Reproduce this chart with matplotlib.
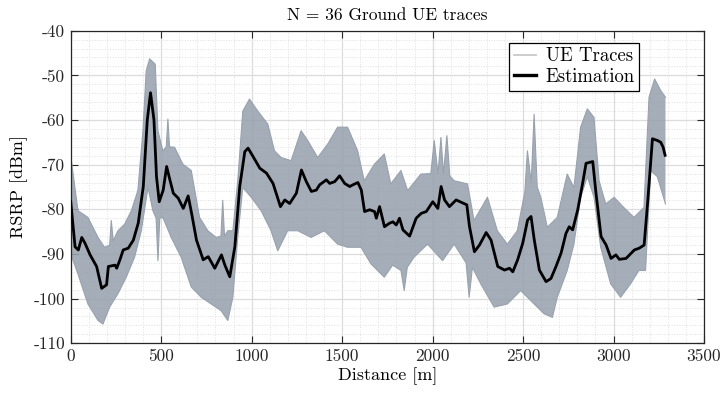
import matplotlib
matplotlib.use('Agg')
import matplotlib.pyplot as plt
from matplotlib.ticker import MultipleLocator
import numpy as np

plt.rcParams['font.family'] = ['cmr10', 'DejaVu Serif']
plt.rcParams['mathtext.fontset'] = 'cm'
plt.rcParams['axes.unicode_minus'] = False
plt.rcParams['axes.formatter.use_mathtext'] = False

# Mean RSRP estimate along the drive route
est_dist = [0, 24, 42, 61, 79, 107, 143, 171, 198, 208, 245, 254, 272, 290, 318, 346,
            373, 401, 423, 441, 460, 474, 489, 511, 530, 548, 567, 594, 622, 649, 668,
            695, 732, 760, 796, 833, 852, 879, 907, 934, 962, 980, 1008, 1045, 1082,
            1118, 1159, 1183, 1210, 1247, 1275, 1302, 1330, 1357, 1376, 1413, 1431,
            1459, 1486, 1514, 1542, 1560, 1587, 1606, 1624, 1652, 1679, 1689, 1707,
            1734, 1762, 1781, 1799, 1817, 1836, 1873, 1909, 1937, 1965, 2001, 2029,
            2047, 2066, 2093, 2130, 2189, 2204, 2231, 2259, 2296, 2323, 2360, 2397,
            2425, 2443, 2470, 2498, 2525, 2544, 2562, 2590, 2627, 2654, 2682, 2710,
            2737, 2755, 2774, 2802, 2829, 2848, 2885, 2903, 2931, 2959, 2986, 3013,
            3032, 3069, 3115, 3142, 3169, 3188, 3215, 3243, 3261, 3274, 3285]
est_rsrp = [-78.3, -88.4, -89.1, -86.3, -87.6, -90.2, -92.8, -97.7, -96.9, -92.8, -92.5,
            -93.2, -91.3, -89.1, -88.7, -86.9, -83.1, -74.9, -60.0, -53.9, -60.0, -72.7,
            -78.3, -75.7, -70.4, -73.4, -76.4, -77.5, -79.8, -77.0, -80.9, -86.9, -91.3,
            -90.6, -93.2, -90.2, -92.5, -95.1, -88.4, -74.9, -67.1, -66.3, -68.2, -70.8,
            -71.9, -74.2, -79.4, -77.9, -78.7, -76.4, -71.2, -73.8, -76.0, -75.7, -74.5,
            -73.4, -74.2, -73.8, -72.5, -74.2, -74.9, -74.5, -74.0, -75.7, -80.5, -80.1,
            -80.5, -82.0, -79.4, -83.9, -83.1, -82.8, -83.5, -82.0, -84.6, -86.0, -82.0,
            -80.9, -80.5, -78.3, -79.8, -74.9, -77.9, -79.4, -77.9, -79.0, -83.9, -89.5,
            -88.0, -85.2, -86.9, -92.8, -93.6, -93.2, -94.0, -91.3, -87.6, -82.4, -81.6,
            -86.9, -93.6, -96.2, -95.5, -92.8, -89.8, -85.4, -83.9, -84.6, -80.1, -74.2,
            -69.7, -69.3, -76.4, -86.1, -88.0, -91.0, -90.2, -91.2, -91.0, -89.1, -88.7,
            -88.0, -78.7, -64.2, -64.6, -65.0, -66.1, -67.9]

# Upper and lower edges of the 36 measured UE traces
up_dist = [0, 40, 95, 151, 187, 215, 224, 235, 261, 298, 335, 371, 399, 417, 436, 467,
           482, 509, 528, 537, 546, 574, 620, 666, 712, 758, 804, 830, 840, 850, 868,
           896, 923, 951, 988, 1034, 1089, 1126, 1163, 1218, 1273, 1310, 1365, 1420,
           1475, 1530, 1586, 1622, 1678, 1733, 1769, 1825, 1862, 1935, 1990, 2009,
           2030, 2046, 2060, 2079, 2095, 2119, 2193, 2229, 2303, 2358, 2413, 2468,
           2510, 2524, 2545, 2561, 2578, 2598, 2634, 2689, 2744, 2781, 2818, 2855,
           2892, 2920, 2957, 3003, 3057, 3113, 3168, 3196, 3227, 3261, 3287]
up_rsrp = [-68.0, -80.3, -81.8, -86.3, -88.5, -88.0, -82.5, -87.0, -84.8, -83.3, -80.3,
           -75.8, -62.4, -49.0, -46.3, -47.5, -62.4, -66.9, -66.0, -59.8, -66.0, -66.1,
           -69.9, -71.3, -81.8, -84.8, -86.3, -86.0, -78.0, -86.0, -84.8, -84.8, -73.6,
           -58.0, -55.3, -58.0, -60.9, -66.9, -68.4, -69.1, -62.4, -64.6, -68.4, -65.4,
           -61.6, -61.6, -66.9, -73.6, -69.9, -67.6, -74.3, -71.3, -75.8, -72.1, -72.0,
           -64.6, -72.0, -63.9, -72.0, -63.5, -72.5, -73.6, -74.3, -82.5, -77.3, -84.8,
           -87.8, -84.8, -76.0, -66.9, -74.0, -58.7, -75.0, -77.3, -84.0, -81.8, -72.1,
           -75.1, -61.6, -57.5, -59.4, -73.6, -78.8, -77.3, -79.6, -81.8, -79.6, -54.9,
           -50.8, -53.4, -54.9]
lo_dist = [0, 40, 95, 151, 178, 215, 261, 307, 353, 390, 427, 454, 472, 482, 492, 509,
           555, 610, 666, 721, 776, 831, 868, 896, 923, 951, 997, 1052, 1107, 1144,
           1199, 1255, 1328, 1402, 1475, 1530, 1604, 1659, 1733, 1779, 1825, 1843,
           1860, 1898, 1972, 2055, 2119, 2185, 2202, 2220, 2266, 2340, 2413, 2487,
           2561, 2616, 2662, 2689, 2744, 2781, 2818, 2855, 2892, 2929, 2984, 3039,
           3094, 3140, 3177, 3205, 3242, 3287]
lo_rsrp = [-90.0, -94.5, -101.2, -104.9, -105.7, -101.9, -98.9, -95.2, -90.7, -84.8,
           -75.1, -80.3, -82.0, -91.5, -82.0, -81.8, -86.3, -90.7, -97.4, -99.7, -101.2,
           -102.7, -104.9, -99.7, -86.3, -75.1, -77.3, -80.3, -84.8, -89.3, -84.8, -84.8,
           -86.3, -84.8, -87.8, -88.5, -88.5, -92.2, -95.2, -92.5, -93.7, -98.2, -93.0,
           -90.7, -87.8, -91.5, -87.8, -92.0, -99.7, -93.0, -96.7, -101.9, -101.2, -98.2,
           -101.2, -103.4, -104.2, -99.7, -93.7, -87.8, -77.3, -72.7, -77.3, -88.5, -96.7,
           -99.7, -96.7, -93.7, -93.7, -71.3, -72.7, -78.8]

trace_color = '#98a2ae'

fig = plt.figure(figsize=(7.24, 3.93), dpi=100)
ax = fig.add_axes([0.0977, 0.1265, 0.8747, 0.7954])

band_x = np.r_[up_dist, lo_dist[::-1]]
band_y = np.r_[up_rsrp, lo_rsrp[::-1]]
ax.fill(band_x, band_y, color=trace_color, alpha=0.88, lw=0, zorder=2)
ax.plot(up_dist, up_rsrp, color=trace_color, lw=0.8, zorder=2)
ax.plot(lo_dist, lo_rsrp, color=trace_color, lw=0.8, zorder=2)

ax.plot(est_dist, est_rsrp, color='black', lw=2.0, zorder=3)

# legend entries
trace_handle, = ax.plot([], [], color='#c8c8c8', lw=1.3, label='UE Traces')
est_handle, = ax.plot([], [], color='black', lw=2.4, label='Estimation')
leg = ax.legend(handles=[trace_handle, est_handle], loc='upper right',
                bbox_to_anchor=(0.898, 0.962), fontsize=13.5, fancybox=False,
                framealpha=1, edgecolor='black', handlelength=1.2,
                handletextpad=0.5, borderpad=0.25, labelspacing=0.15,
                borderaxespad=0)
leg.get_frame().set_linewidth(0.9)
leg.set_zorder(5)

ax.set_xlim(0, 3500)
ax.set_ylim(-110, -40)
ax.xaxis.set_major_locator(MultipleLocator(500))
ax.xaxis.set_minor_locator(MultipleLocator(100))
ax.yaxis.set_major_locator(MultipleLocator(10))
ax.yaxis.set_minor_locator(MultipleLocator(2))
ax.grid(which='major', color='#dcdcdc', lw=0.9, zorder=0)
ax.grid(which='minor', color='#e0e0e0', lw=0.7, ls=':', zorder=0)
ax.set_axisbelow(True)
ax.tick_params(which='major', direction='in', top=True, right=True, length=5,
               width=0.8, labelsize=12.5, colors='#262626', pad=4)
ax.tick_params(which='minor', length=0)
for s in ax.spines.values():
    s.set_color('#262626')
    s.set_linewidth(0.9)

ax.set_xlabel('Distance [m]', fontsize=13, labelpad=2)
ax.set_ylabel('RSRP [dBm]', fontsize=13, labelpad=4)
ax.set_title('N = 36 Ground UE traces', fontsize=12.5, pad=8)

fig.savefig('out.png', dpi=100)
